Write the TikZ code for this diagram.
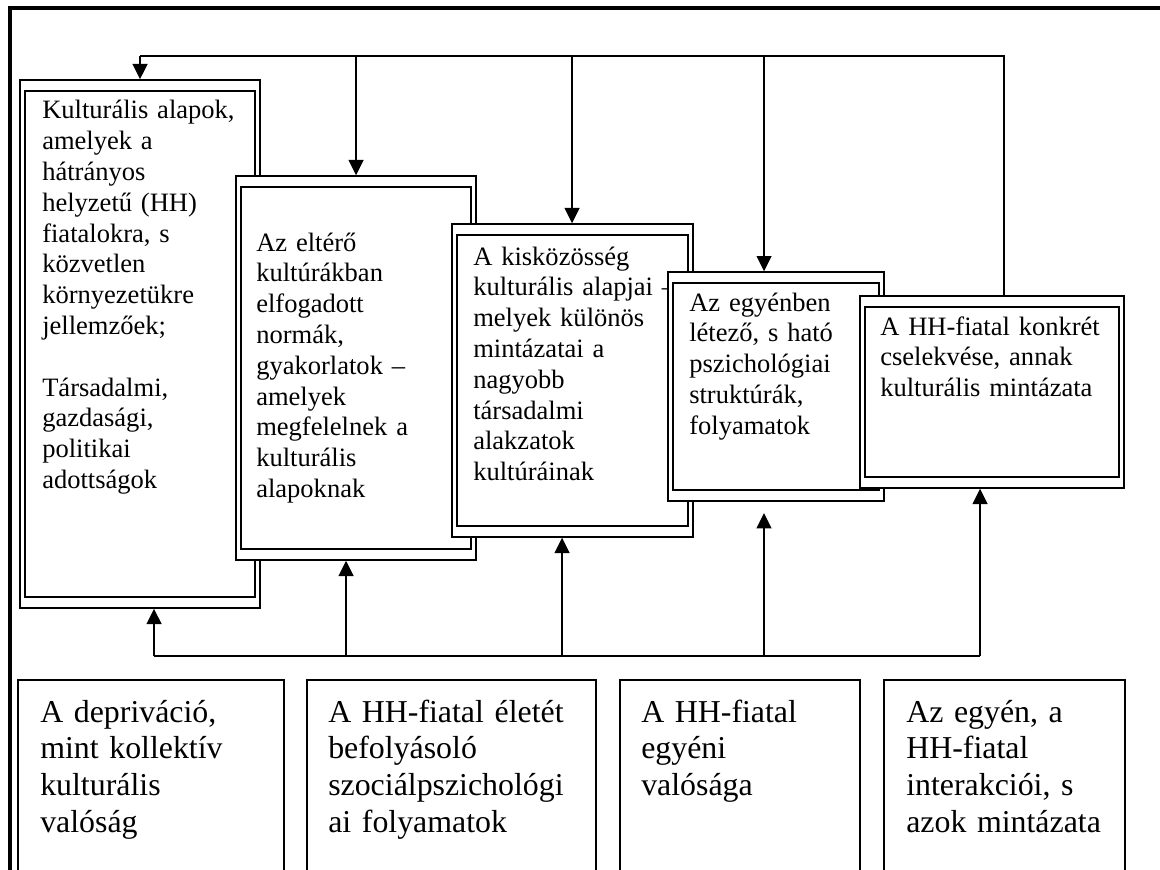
\documentclass[tikz,border=0pt]{standalone}
\usepackage{fontspec}
\setmainfont{Liberation Serif}
\usetikzlibrary{arrows.meta,fit}
\tikzset{
  outerbox/.style={draw, line width=1pt, fill=white, inner sep=0pt},
  innerbox/.style={draw, line width=1.7pt, inner sep=0pt},
  botbox/.style={draw, line width=1.3pt, inner sep=0pt},
  conn/.style={line width=1.6pt},
  arr/.style={line width=1.6pt, -{Triangle[length=11.5pt,width=11pt]}},
  frameline/.style={line width=2.4pt},
  uptext/.style={inner sep=0pt, align=left, text width=230pt, anchor=base west,
    font=\fontsize{19.9pt}{23.1pt}\selectfont},
  bottext/.style={inner sep=0pt, align=left, text width=230pt, anchor=base west,
    font=\fontsize{23.9pt}{27.5pt}\selectfont}
}
\begin{document}
\begin{tikzpicture}[x=0.75pt,y=-0.75pt]
\useasboundingbox (0,0) rectangle (1160,870);
\begin{scope}
\clip (0,0) rectangle (1160,870);
% outer frame
\draw[frameline] (10,872) -- (10,8) -- (1162,8);

% upper double boxes, each followed by its text
\node[outerbox, fit={(20,80)(260,608)}] (b1) {};
\node[innerbox, fit={(25,91)(255,597)}] (b1i) {};
\node[uptext] (t1) at (42,119) {Kulturális alapok,\\amelyek a\\hátrányos\\helyzetű (HH)\\fiatalokra, s\\közvetlen\\környezetükre\\jellemzőek;\\[23.1pt]Társadalmi,\\gazdasági,\\politikai\\adottságok};

\node[outerbox, fit={(236,176)(476,560)}] (b2) {};
\node[innerbox, fit={(241,187)(471,549)}] (b2i) {};
\node[uptext] (t2) at (256,251) {Az eltérő\\kultúrákban\\elfogadott\\normák,\\gyakorlatok –\\amelyek\\megfelelnek a\\kulturális\\alapoknak};

\node[outerbox, fit={(452,224)(693,537)}] (b3) {};
\node[innerbox, fit={(457,235)(688,526)}] (b3i) {};
\node[uptext] (t3) at (473,265) {A kisközösség\\kulturális alapjai –\\melyek különös\\mintázatai a\\nagyobb\\társadalmi\\alakzatok\\kultúráinak};

\node[outerbox, fit={(668,272)(884,501)}] (b4) {};
\node[innerbox, fit={(673,283)(879,490)}] (b4i) {};
\node[uptext] (t4) at (689,311) {Az egyénben\\létező, s ható\\pszichológiai\\struktúrák,\\folyamatok};

\node[outerbox, fit={(860,296)(1124,488)}] (b5) {};
\node[innerbox, fit={(865,307)(1119,477)}] (b5i) {};
\node[uptext] (t5) at (880,335) {A HH-fiatal konkrét\\cselekvése, annak\\kulturális mintázata};

% top feedback bus
\coordinate (tA) at (140,56);
\coordinate (tB) at (356,56);
\coordinate (tC) at (572,56);
\coordinate (tD) at (764,56);
\coordinate (tE) at (1004,56);
\draw[conn] (tE |- b5.north) -- (tE) -- (tA);
\draw[arr] (tA) -- (tA |- b1.north);
\draw[arr] (tB) -- (tB |- b2.north);
\draw[arr] (tC) -- (tC |- b3.north);
\draw[arr] (tD) -- (tD |- b4.north);

% bottom bus
\coordinate (uA) at (154,656);
\coordinate (uB) at (346,656);
\coordinate (uC) at (562,656);
\coordinate (uD) at (764,656);
\coordinate (uE) at (980,656);
\draw[conn] (uA) -- (uE);
\draw[arr] (uA) -- (uA |- b1.south);
\draw[arr] (uB) -- (uB |- b2.south);
\draw[arr] (uC) -- (uC |- b3.south);
\draw[arr, shorten >=8.5pt] (uD) -- (uD |- b4.south);
\draw[arr] (uE) -- (uE |- b5.south);

% bottom boxes
\node[botbox, fit={(18,680)(284,885)}] (d1) {};
\node[botbox, fit={(307,680)(596,885)}] (d2) {};
\node[botbox, fit={(620,680)(860,885)}] (d3) {};
\node[botbox, fit={(884,680)(1125,885)}] (d4) {};
\node[bottext] (e1) at (40,722) {A depriváció,\\mint kollektív\\kulturális\\valóság};
\node[bottext] (e2) at (328,722) {A HH-fiatal életét\\befolyásoló\\szociálpszichológi\\ai folyamatok};
\node[bottext] (e3) at (641,722) {A HH-fiatal\\egyéni\\valósága};
\node[bottext] (e4) at (906,722) {Az egyén, a\\HH-fiatal\\interakciói, s\\azok mintázata};
\end{scope}
\end{tikzpicture}
\end{document}
